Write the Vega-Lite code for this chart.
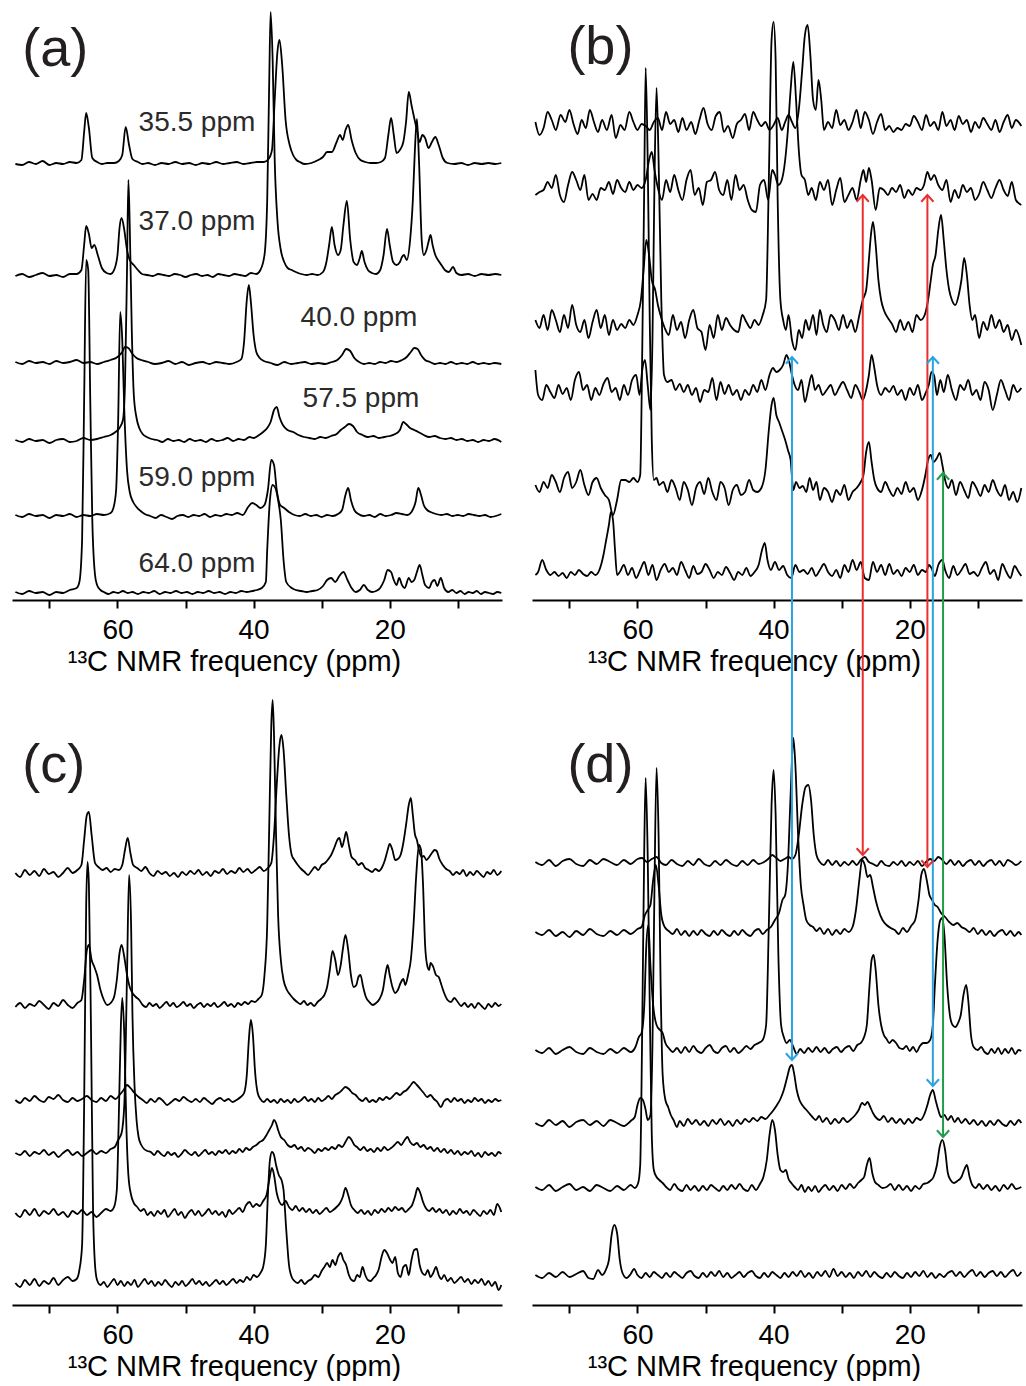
{
"$schema":"https://vega.github.io/schema/vega-lite/v6.json",
"padding":{"left":12,"top":5,"right":0,"bottom":0},
"background":"white",
"config":{"view":{"stroke":null},"font":"Liberation Sans"},
"datasets":{
"traces":[
{"panel":"a","id":"a1","x":[75,74,73,72,71,70,69,68,67,66,65.3,64.9,64.6,64.2,63.7,63.0,62.3,61.5,60.5,59.8,59.3,58.8,58.3,57.8,57.0,56.3,55.5,54.5,53.5,52.5,51.5,50.5,49.5,48.5,47.5,46.5,45.5,44.5,43.5,42.5,41.5,40.5,39.5,38.5,37.8,37.3,36.9,36.5,36.2,35.8,35.3,34.7,34.2,33.7,33.2,32.5,31.5,30.5,29.8,29.2,28.5,27.8,27.3,26.9,26.5,26.1,25.6,25.0,24.3,23.6,22.8,22.0,21.3,20.7,20.2,19.8,19.4,19.0,18.5,18.0,17.6,17.2,16.8,16.4,16.0,15.6,15.2,14.8,14.3,13.8,13.3,12.8,12.2,11.5,10.5,9.5,8.5,7.5,6.5,5.5,4.5,3.6],
"y":[436,435,438,436,439,435,437,436,438,437,440,468,487,472,442,438,436,437,437,439,445,473,455,441,438,436,437,435,437,436,438,436,437,435,437,436,438,436,437,438,436,437,438,438,441,450,500,548,560,535,480,455,445,440,438,436,437,440,443,448,448,458,465,460,470,475,460,447,440,438,437,437,438,442,465,482,465,447,450,458,478,508,495,482,470,458,465,462,452,458,463,455,442,437,436,437,435,437,436,437,436,437]},
{"panel":"a","id":"a2","x":[75,74,73,72,71,70,69,68,67,66,65.3,64.9,64.6,64.2,63.8,63.4,62.9,62.3,61.6,61.0,60.5,60.0,59.7,59.4,59.0,58.6,58.2,57.6,57.0,56.4,55.6,54.8,54.0,53.2,52.4,51.6,50.8,50.0,49.2,48.4,47.6,46.8,46.0,45.2,44.4,43.6,42.8,42.0,41.2,40.4,39.6,39.0,38.4,38.0,37.7,37.5,37.2,36.9,36.5,36.0,35.5,35.0,34.4,33.8,33.0,32.2,31.4,30.6,29.8,29.3,28.9,28.5,28.1,27.6,27.2,26.8,26.3,25.8,25.3,24.8,24.4,24.1,23.7,23.2,22.6,22.0,21.4,20.9,20.4,20.0,19.5,19.0,18.5,18.2,17.9,17.5,17.0,16.6,16.3,16.0,15.7,15.3,15.0,14.6,14.3,14.0,13.7,13.3,12.9,12.4,11.9,11.3,10.7,10.2,9.5,8.5,7.5,6.5,5.5,4.5,3.6],
"y":[324,326,323,325,327,324,325,323,326,326,330,355,374,366,352,355,345,332,327,326,330,345,372,382,370,350,340,335,330,326,325,324,326,325,324,326,325,323,325,326,324,325,323,326,325,324,326,325,324,327,326,330,345,400,520,588,540,440,380,350,338,332,330,328,326,325,326,325,328,338,355,373,355,345,350,375,399,360,338,335,342,349,338,330,327,326,330,345,371,355,338,335,338,343,345,340,360,400,450,481,440,360,345,350,358,365,355,345,340,335,330,328,333,327,325,326,324,326,325,326,325]},
{"panel":"a","id":"a3","x":[75,74,73,72,71,70,69,68,67,66,65,64,63,62,61,60,59.3,58.9,58.4,57.8,57.2,56.5,55.5,54.5,53.5,52.5,51.5,50.5,49.5,48.5,47.5,46.5,45.5,44.5,43.5,42.5,41.8,41.4,41.0,40.7,40.4,40.0,39.6,39.1,38.5,37.5,36.5,35.5,34.5,33.5,32.5,31.5,30.5,29.5,28.5,27.7,27.0,26.4,25.8,25.2,24.5,23.8,23.0,22.2,21.4,20.6,19.8,19.0,18.2,17.5,16.9,16.4,15.9,15.4,14.8,14.1,13.4,12.6,11.8,11.0,10.2,9.4,8.6,7.8,7.0,6.2,5.4,4.6,3.6],
"y":[238,236,239,237,238,236,239,237,238,240,237,238,236,238,240,243,248,253,252,246,242,240,238,236,237,239,236,238,235,237,238,236,238,237,236,238,241,258,300,315,298,265,248,242,239,237,235,238,236,237,238,236,237,236,238,240,245,251,249,242,238,236,237,236,238,237,239,238,240,243,248,252,251,245,240,238,236,237,236,238,236,237,236,238,236,237,236,237,236]},
{"panel":"a","id":"a4","x":[75,74,73,72,71,70,69,68,67,66,65,64,63,62,61,60.3,59.7,59.2,58.9,58.6,58.4,58.2,57.9,57.6,57.2,56.8,56.3,55.7,55.0,54.2,53.4,52.6,51.8,51.0,50.2,49.4,48.6,47.8,47.0,46.2,45.4,44.6,43.8,43.0,42.2,41.4,40.6,40.0,39.2,38.6,38.0,37.5,37.0,36.6,36.2,35.7,35.0,34.2,33.4,32.6,31.8,31.0,30.2,29.4,28.6,27.8,27.2,26.6,26.0,25.4,24.8,24.0,23.2,22.4,21.6,20.8,20.0,19.2,18.5,18.0,17.6,17.0,16.4,15.8,15.0,14.2,13.4,12.6,11.8,11.0,10.2,9.4,8.6,7.8,7.0,6.2,5.4,4.6,3.6],
"y":[160,158,161,159,160,157,160,161,158,159,162,160,161,163,165,168,172,180,215,330,420,375,270,205,182,172,166,163,161,160,158,161,159,160,158,161,159,160,158,161,159,160,162,159,161,160,163,162,165,168,172,178,190,193,183,175,170,168,165,163,162,161,163,162,164,166,170,173,176,174,168,165,163,164,162,163,164,166,170,178,176,172,170,168,165,163,164,162,161,162,160,161,159,160,158,160,159,161,158]},
{"panel":"a","id":"a5","x":[75,74,73,72,71,70,69,68,67,66,65,64,63,62,61,60.6,60.2,59.9,59.6,59.3,59.0,58.6,58.2,57.7,57.2,56.6,56.0,55.2,54.4,53.6,52.8,52.0,51.2,50.4,49.6,48.8,48.0,47.2,46.4,45.6,44.8,44.0,43.2,42.4,41.6,40.8,40.2,39.6,39.0,38.4,37.9,37.4,37.0,36.6,36.1,35.5,34.8,34.0,33.2,32.4,31.6,30.8,30.0,29.2,28.4,27.6,27.0,26.5,26.1,25.7,25.2,24.6,23.8,23.0,22.2,21.4,20.6,19.8,19.0,18.2,17.4,16.8,16.2,15.8,15.4,15.0,14.5,14.0,13.2,12.4,11.6,10.8,10.0,9.2,8.4,7.6,6.8,6.0,5.2,4.4,3.6],
"y":[85,83,86,84,85,82,85,84,86,83,85,84,86,85,87,92,110,180,288,260,190,130,108,98,93,89,86,84,82,85,83,81,84,85,83,85,84,86,83,85,84,86,85,87,85,93,97,95,92,95,110,140,135,110,95,92,88,85,84,86,84,85,83,85,84,86,90,105,112,100,90,86,84,85,83,86,84,85,87,86,85,88,98,112,105,95,90,88,86,85,86,84,85,84,86,85,84,85,83,84,86]},
{"panel":"a","id":"a6","x":[75,74,73,72,71,70,69,68,67,66,65.6,65.2,64.9,64.6,64.3,64.0,63.7,63.3,63.0,62.5,62.0,61.3,60.6,59.9,59.2,58.5,57.8,57.0,56.2,55.4,54.6,53.8,53.0,52.2,51.4,50.6,49.8,49.0,48.2,47.4,46.6,45.8,45.0,44.2,43.4,42.6,41.8,41.0,40.2,39.5,38.8,38.2,38.0,37.6,37.2,36.8,36.4,36.0,35.6,35.2,34.4,33.8,33.0,32.2,31.4,30.6,29.8,29.2,28.6,28.0,27.4,26.8,26.2,25.6,25.0,24.4,23.8,23.2,22.6,22.0,21.4,20.8,20.3,19.8,19.4,19.0,18.6,18.2,17.8,17.2,16.8,16.4,16.0,15.6,15.2,14.8,14.2,13.8,13.4,13.0,12.5,12.0,11.4,10.8,10.2,9.6,9.0,8.4,7.8,7.2,6.6,6.0,5.4,4.8,4.2,3.6],
"y":[8,6,9,7,8,5,8,7,10,12,18,60,200,340,330,200,80,25,15,10,8,6,8,7,9,7,8,6,8,7,9,6,8,7,9,7,8,6,8,7,9,7,8,6,8,7,9,8,9,10,12,18,50,100,115,112,100,80,40,18,12,10,9,8,9,10,14,20,22,18,24,28,20,12,8,10,15,10,8,9,12,20,30,28,20,15,22,15,12,22,18,20,28,35,25,15,12,18,20,14,22,12,8,10,7,9,6,8,7,9,6,8,7,6,8,7]},
{"panel":"b","id":"b1","x":[75,74.4,73.8,73.2,72.6,72.0,71.3,70.6,70.0,69.4,68.8,68.2,67.6,67.0,66.4,65.8,65.2,64.5,63.8,63.2,62.5,61.9,61.2,60.6,60.0,59.4,58.8,58.2,57.6,57.0,56.4,55.8,55.2,54.6,54.0,53.4,52.8,52.1,51.5,50.9,50.3,49.7,49.1,48.5,47.9,47.3,46.7,46.0,45.4,44.8,44.2,43.6,43.0,42.4,41.8,41.2,40.6,40.0,39.4,38.8,38.3,37.8,37.3,36.8,36.3,35.8,35.4,35.0,34.6,34.2,33.8,33.4,33.0,32.6,32.0,31.4,30.8,30.2,29.6,29.0,28.4,27.8,27.2,26.6,26.0,25.4,24.8,24.2,23.6,23.0,22.4,21.8,21.2,20.6,20.0,19.4,18.8,18.2,17.6,17.0,16.4,15.8,15.2,14.6,14.0,13.4,12.8,12.2,11.6,11.0,10.4,9.8,9.2,8.6,8.0,7.4,6.8,6.2,5.6,5.0,4.4,3.6],
"y":[478,465,472,488,480,470,485,478,490,476,466,480,472,490,478,468,480,470,485,462,475,470,488,478,470,476,474,470,478,482,470,488,476,480,468,482,470,478,466,480,492,476,470,484,488,468,474,462,476,480,486,470,488,480,474,478,470,475,482,470,478,485,478,472,490,530,565,575,545,500,490,520,500,470,478,472,490,475,480,470,478,490,472,488,480,466,478,486,470,474,468,472,470,476,474,484,478,470,485,474,478,470,488,474,480,470,484,476,480,468,478,472,482,476,470,480,468,478,485,472,480,474]},
{"panel":"b","id":"b2","x":[75,74.4,73.8,73.2,72.6,72.0,71.4,70.8,70.2,69.6,69.0,68.4,67.8,67.2,66.6,66.0,65.4,64.8,64.2,63.6,63.0,62.4,61.8,61.2,60.6,60.0,59.4,58.8,58.3,57.9,57.5,57.0,56.4,55.8,55.2,54.6,54.0,53.4,52.8,52.2,51.6,51.0,50.4,49.8,49.2,48.6,48.0,47.4,46.8,46.2,45.6,45.0,44.4,43.8,43.2,42.6,42.0,41.4,40.8,40.2,39.8,39.3,38.8,38.3,37.9,37.5,37.1,36.7,36.3,35.9,35.4,34.9,34.4,33.8,33.2,32.6,32.0,31.4,30.8,30.2,29.6,29.0,28.4,27.8,27.2,26.8,26.4,26.0,25.6,25.0,24.4,23.8,23.2,22.6,22.0,21.4,20.8,20.2,19.6,19.0,18.4,17.9,17.4,16.9,16.4,15.8,15.2,14.6,14.0,13.4,12.8,12.2,11.6,11.0,10.4,9.8,9.2,8.6,8.0,7.4,6.8,6.2,5.6,5.0,4.4,3.6],
"y":[405,408,410,418,412,425,405,398,415,428,420,410,425,400,406,400,412,410,418,406,420,412,408,418,410,415,412,420,440,448,430,412,400,420,408,425,410,400,420,430,405,412,395,418,420,428,410,405,420,400,425,410,415,400,390,388,415,420,400,430,425,415,420,440,470,510,538,500,450,425,420,405,412,400,418,410,420,395,410,422,398,405,412,400,420,430,418,432,420,390,412,410,405,412,408,415,402,410,405,412,410,415,428,420,425,415,410,420,398,410,402,415,408,412,400,406,418,410,402,412,420,410,404,418,400,395]},
{"panel":"b","id":"b3","x":[75,74.4,73.8,73.2,72.6,72.0,71.4,70.8,70.2,69.6,69.0,68.4,67.8,67.2,66.6,66.0,65.4,64.8,64.2,63.6,63.0,62.4,61.8,61.2,60.6,60.0,59.5,59.1,58.7,58.3,57.9,57.4,57.0,56.5,56.0,55.4,54.8,54.2,53.6,53.0,52.4,51.8,51.2,50.6,50.0,49.4,48.8,48.2,47.6,47.0,46.4,45.8,45.2,44.6,44.0,43.4,42.8,42.2,41.6,41.1,40.7,40.3,40.0,39.7,39.4,39.0,38.6,38.2,37.8,37.3,36.8,36.3,35.8,35.3,34.8,34.2,33.7,33.2,32.7,32.2,31.6,31.0,30.4,29.8,29.2,28.6,28.0,27.4,26.9,26.4,26.0,25.7,25.4,25.0,24.6,24.2,23.8,23.2,22.6,22.0,21.4,20.8,20.2,19.6,19.0,18.4,17.8,17.3,16.9,16.6,16.2,15.8,15.4,15.0,14.6,14.2,13.8,13.3,12.8,12.4,12.0,11.6,11.2,10.8,10.4,9.8,9.2,8.6,8.0,7.4,6.8,6.2,5.6,5.0,4.4,3.6],
"y":[280,272,285,270,290,280,268,285,272,295,275,268,280,262,278,290,272,285,265,280,270,276,272,280,275,285,300,330,360,345,320,310,295,282,272,265,285,270,278,262,280,290,272,268,250,275,262,285,270,282,275,270,268,285,278,272,280,275,285,300,420,560,578,540,400,300,280,270,285,260,250,270,262,280,270,285,265,290,275,268,285,280,270,285,272,280,268,285,300,310,340,365,378,355,320,300,290,282,276,268,280,270,278,268,285,280,285,300,320,335,345,370,385,360,330,310,300,295,305,320,342,325,295,280,285,262,278,270,285,272,280,268,275,260,270,255]},
{"panel":"b","id":"b4","x":[75,74.6,74.0,73.4,72.8,72.2,71.6,71.0,70.4,69.8,69.2,68.6,68.0,67.4,66.8,66.2,65.6,65.0,64.4,63.8,63.2,62.6,62.0,61.4,60.8,60.2,59.7,59.3,58.9,58.5,58.1,57.8,57.5,57.2,56.9,56.5,56.1,55.6,55.0,54.4,53.8,53.2,52.6,52.0,51.4,50.8,50.2,49.6,49.0,48.4,47.8,47.2,46.6,46.0,45.4,44.8,44.2,43.6,43.0,42.4,41.8,41.2,40.6,40.1,39.6,39.1,38.6,38.1,37.7,37.3,36.9,36.4,35.9,35.4,34.9,34.4,33.9,33.4,32.8,32.2,31.6,31.0,30.4,29.8,29.2,28.6,28.0,27.4,26.9,26.4,26.0,25.6,25.2,24.8,24.2,23.6,23.0,22.4,21.8,21.2,20.6,20.0,19.4,18.8,18.2,17.6,17.2,16.8,16.4,16.0,15.5,15.0,14.4,13.8,13.2,12.6,12.0,11.4,10.8,10.2,9.6,9.0,8.4,7.8,7.2,6.6,6.0,5.4,4.8,4.2,3.6],
"y":[230,205,200,215,208,202,215,206,212,200,220,228,210,215,200,212,205,216,222,208,212,200,215,205,220,225,205,230,240,215,190,260,420,512,440,300,225,218,220,210,216,208,215,205,212,198,210,208,222,200,218,206,215,205,210,200,210,205,215,208,220,210,225,232,228,230,235,245,238,225,215,210,220,198,212,225,210,215,205,210,215,205,212,218,210,202,215,208,200,210,225,245,232,215,205,212,208,214,205,210,200,212,205,215,200,208,215,228,224,205,220,208,225,210,200,215,210,220,205,210,200,218,210,190,205,220,210,200,215,208,212]},
{"panel":"b","id":"b5","x":[75,74.4,73.8,73.2,72.6,72.0,71.4,70.8,70.2,69.6,69.0,68.4,67.8,67.2,66.6,66.0,65.4,64.8,64.2,63.6,63.0,62.4,61.8,61.2,60.6,60.0,59.6,59.3,59.0,58.8,58.5,58.2,57.9,57.6,57.2,56.8,56.2,55.6,55.0,54.4,53.8,53.2,52.6,52.0,51.4,50.8,50.2,49.6,49.0,48.4,47.8,47.2,46.6,46.0,45.4,44.8,44.2,43.6,43.0,42.4,41.8,41.2,40.7,40.3,40.0,39.6,39.2,38.8,38.3,37.9,37.5,37.1,36.7,36.2,35.7,35.2,34.7,34.2,33.7,33.2,32.6,32.0,31.4,30.8,30.2,29.6,29.0,28.4,27.8,27.2,26.8,26.4,26.0,25.6,25.2,24.8,24.2,23.6,23.0,22.4,21.8,21.2,20.6,20.0,19.4,18.8,18.2,17.7,17.3,16.9,16.5,16.0,15.6,15.2,14.8,14.3,13.8,13.2,12.6,12.0,11.4,10.8,10.2,9.6,9.0,8.4,7.8,7.2,6.6,6.0,5.4,4.8,4.2,3.6],
"y":[115,108,118,112,125,118,108,122,128,112,118,130,115,105,118,122,112,105,100,85,100,120,120,118,122,118,125,250,420,532,440,280,160,120,122,115,118,108,120,112,100,118,110,95,112,118,106,122,108,100,118,112,95,110,115,105,108,120,110,108,112,130,170,195,202,185,178,170,160,150,140,110,118,112,114,108,122,110,118,100,112,108,98,110,105,115,100,108,112,118,125,148,158,138,120,112,108,118,110,104,112,106,118,108,112,100,110,125,140,145,138,142,147,135,120,112,120,105,118,110,102,118,112,104,115,108,120,110,104,115,100,108,98,112]},
{"panel":"b","id":"b6","x":[75,74.6,74.0,73.4,72.8,72.2,71.6,71.0,70.4,69.8,69.2,68.6,68.0,67.4,66.8,66.2,65.6,65.0,64.6,64.2,63.9,63.6,63.3,63.0,62.6,62.0,61.4,60.8,60.2,59.6,59.0,58.4,57.8,57.2,56.6,56.0,55.4,54.8,54.2,53.6,53.0,52.4,51.8,51.2,50.6,50.0,49.4,48.8,48.2,47.6,47.0,46.4,45.8,45.2,44.6,44.0,43.4,42.8,42.2,41.7,41.3,40.9,40.4,39.8,39.2,38.6,38.0,37.4,36.8,36.2,35.6,35.0,34.4,33.8,33.2,32.6,32.0,31.4,30.8,30.2,29.6,29.0,28.4,27.8,27.2,26.6,26.0,25.4,24.8,24.2,23.6,23.0,22.4,21.8,21.2,20.6,20.0,19.4,18.8,18.2,17.6,17.2,16.8,16.3,15.8,15.2,14.8,14.2,13.6,13.0,12.4,11.8,11.2,10.6,10.0,9.4,8.8,8.2,7.6,7.0,6.4,5.8,5.2,4.6,4.0,3.6],
"y":[25,28,40,30,25,28,24,27,22,28,25,30,26,24,28,25,30,45,60,75,88,80,50,25,28,35,25,32,22,30,38,25,35,20,30,36,28,32,25,38,30,22,34,26,28,36,30,22,28,25,33,27,20,28,25,32,24,28,35,50,57,40,30,38,30,34,25,22,35,28,30,26,32,24,30,36,28,24,30,22,35,28,40,30,38,22,20,38,28,35,25,36,26,30,24,32,28,35,25,30,28,35,32,24,35,40,30,22,34,25,30,36,26,28,24,32,38,26,30,20,36,28,22,34,28,24]},
{"panel":"c","id":"c1","x":[75,74.3,73.6,72.9,72.2,71.5,70.8,70.1,69.4,68.7,68.0,67.3,66.6,65.9,65.3,64.9,64.5,64.2,63.8,63.3,62.8,62.2,61.6,61.0,60.4,59.8,59.3,58.9,58.5,58.1,57.7,57.1,56.5,55.9,55.3,54.7,54.1,53.5,52.9,52.3,51.7,51.1,50.5,49.9,49.3,48.7,48.1,47.5,46.9,46.3,45.7,45.1,44.5,43.9,43.3,42.7,42.1,41.5,40.9,40.3,39.7,39.1,38.5,37.9,37.4,37.0,36.6,36.2,35.9,35.6,35.2,34.8,34.4,34.0,33.5,33.0,32.5,32.0,31.5,31.0,30.5,30.0,29.5,29.0,28.6,28.1,27.7,27.4,27.0,26.7,26.4,26.0,25.6,25.1,24.6,24.1,23.6,23.1,22.6,22.1,21.6,21.1,20.7,20.3,20.0,19.6,19.2,18.8,18.4,18.0,17.6,17.2,16.9,16.6,16.3,16.0,15.7,15.3,15.0,14.6,14.2,13.8,13.4,13.1,12.7,12.2,11.7,11.2,10.7,10.2,9.7,9.2,8.7,8.2,7.7,7.2,6.7,6.2,5.7,5.2,4.7,4.2,3.6],
"y":[432,428,435,430,434,429,436,431,433,428,432,437,432,435,440,465,490,493,470,442,438,435,437,433,436,435,440,455,467,452,440,437,434,438,432,429,434,431,433,429,432,428,433,430,434,431,435,430,433,429,434,432,436,431,434,432,437,433,436,432,435,438,434,437,442,470,520,560,570,555,510,470,450,445,440,436,433,430,434,438,435,440,442,446,450,458,465,467,458,465,473,460,448,445,440,442,437,435,433,436,434,438,445,455,461,455,445,446,450,462,480,500,507,490,471,465,455,448,449,445,448,452,455,454,446,440,436,434,430,433,431,435,429,433,430,434,431,428,433,431,435,430,434]},
{"panel":"c","id":"c2","x":[75,74.3,73.6,72.9,72.2,71.5,70.8,70.1,69.4,68.7,68.0,67.3,66.6,65.9,65.3,64.9,64.5,64.2,63.8,63.4,63.0,62.5,62.0,61.5,61.0,60.5,60.1,59.7,59.4,59.0,58.6,58.2,57.8,57.3,56.8,56.3,55.8,55.3,54.8,54.3,53.8,53.3,52.8,52.3,51.8,51.3,50.8,50.3,49.8,49.3,48.8,48.3,47.8,47.3,46.8,46.3,45.8,45.3,44.8,44.3,43.8,43.3,42.8,42.3,41.8,41.3,40.8,40.3,39.8,39.3,38.8,38.4,38.0,37.7,37.4,37.2,37.0,36.7,36.4,36.0,35.6,35.1,34.6,34.1,33.6,33.1,32.6,32.1,31.6,31.1,30.6,30.1,29.6,29.2,28.8,28.4,28.0,27.6,27.2,26.9,26.5,26.1,25.7,25.3,24.9,24.6,24.3,23.9,23.5,23.0,22.5,22.0,21.5,21.0,20.6,20.3,20.0,19.6,19.2,18.8,18.4,18.0,17.7,17.3,16.9,16.5,16.1,15.7,15.4,15.1,14.8,14.5,14.2,14.0,13.6,13.2,12.8,12.4,12.0,11.5,11.0,10.5,10.0,9.5,9.0,8.5,8.0,7.5,7.0,6.5,6.0,5.5,5.0,4.5,4.0,3.6],
"y":[298,302,297,301,299,304,300,296,302,299,305,300,297,302,305,325,355,360,345,338,330,315,305,300,302,308,325,352,360,348,330,318,312,308,305,300,298,302,299,301,297,300,303,299,302,298,300,303,299,301,297,300,302,298,301,299,302,298,300,303,299,301,298,302,300,303,301,304,303,306,310,330,380,480,580,605,570,470,390,345,325,315,310,306,303,301,304,300,302,299,303,306,310,318,335,354,345,330,340,355,370,355,330,318,320,328,330,318,308,303,300,302,306,315,332,340,330,318,312,315,322,326,320,330,345,380,430,460,455,420,360,340,335,342,338,330,328,320,312,305,303,307,303,299,302,298,301,297,302,299,296,301,298,302,299,301]},
{"panel":"c","id":"c3","x":[75,74.3,73.6,72.9,72.2,71.5,70.8,70.1,69.4,68.7,68.0,67.3,66.6,65.9,65.2,64.5,63.8,63.1,62.4,61.7,61.0,60.3,59.7,59.1,58.6,58.1,57.5,56.9,56.3,55.7,55.1,54.5,53.9,53.3,52.7,52.1,51.5,50.9,50.3,49.7,49.1,48.5,47.9,47.3,46.7,46.1,45.5,44.9,44.3,43.7,43.1,42.5,41.9,41.4,41.0,40.7,40.4,40.1,39.8,39.4,39.0,38.5,38.0,37.5,37.0,36.5,36.0,35.5,35.0,34.5,34.0,33.5,33.0,32.5,32.0,31.5,31.0,30.5,30.0,29.5,29.0,28.5,28.0,27.5,27.0,26.5,26.0,25.5,25.0,24.5,24.0,23.5,23.0,22.5,22.0,21.5,21.0,20.5,20.0,19.5,19.0,18.5,18.0,17.5,17.0,16.5,16.0,15.5,15.0,14.5,14.0,13.5,13.0,12.5,12.0,11.5,11.0,10.5,10.0,9.5,9.0,8.5,8.0,7.5,7.0,6.5,6.0,5.5,5.0,4.5,4.0,3.6],
"y":[205,202,207,204,209,205,203,208,206,210,205,203,207,204,206,209,205,203,207,204,209,206,210,215,220,217,212,208,205,202,206,203,207,204,200,203,206,204,208,205,203,206,203,207,204,201,205,207,204,206,203,205,208,212,230,265,285,270,235,212,206,203,206,203,205,202,206,203,205,202,206,203,205,208,204,206,203,207,204,206,209,206,210,212,215,218,216,212,210,206,204,207,203,205,203,207,205,208,206,209,212,210,213,215,219,223,220,216,212,208,210,206,203,198,204,206,203,207,204,206,202,205,203,207,204,206,202,205,203,206,204,205]},
{"panel":"c","id":"c4","x":[75,74.3,73.6,72.9,72.2,71.5,70.8,70.1,69.4,68.7,68.0,67.3,66.6,65.9,65.2,64.5,63.8,63.1,62.4,61.7,61.0,60.4,59.9,59.4,59.0,58.6,58.3,58.0,57.8,57.5,57.2,56.9,56.5,56.1,55.6,55.1,54.6,54.1,53.6,53.1,52.6,52.1,51.6,51.1,50.6,50.1,49.6,49.1,48.6,48.1,47.6,47.1,46.6,46.1,45.6,45.1,44.6,44.1,43.6,43.1,42.6,42.1,41.6,41.1,40.6,40.1,39.6,39.1,38.6,38.1,37.7,37.3,37.0,36.7,36.4,36.0,35.5,35.0,34.5,34.0,33.5,33.0,32.5,32.0,31.5,31.0,30.5,30.0,29.5,29.0,28.5,28.0,27.5,27.0,26.5,26.0,25.6,25.2,24.8,24.3,23.8,23.3,22.8,22.3,21.8,21.3,20.8,20.3,19.8,19.3,18.8,18.3,17.8,17.4,17.0,16.5,16.0,15.5,15.0,14.5,14.0,13.5,13.0,12.5,12.0,11.5,11.0,10.5,10.0,9.5,9.0,8.5,8.0,7.5,7.0,6.5,6.0,5.5,5.0,4.5,4.0,3.6],
"y":[152,150,154,149,153,151,155,150,153,148,152,155,150,153,149,152,155,151,154,152,156,158,165,172,200,330,430,380,290,220,185,168,160,156,154,153,150,154,151,149,153,150,152,148,151,155,152,150,153,149,152,155,151,153,150,154,152,155,151,154,152,156,153,157,155,158,160,163,165,170,175,180,185,182,175,168,165,160,158,160,156,158,154,157,155,152,156,154,157,155,158,156,160,158,163,168,165,160,158,155,158,154,156,153,157,154,158,155,157,160,163,160,165,168,163,160,162,158,160,156,158,154,157,153,156,152,155,151,154,150,153,151,154,149,152,148,153,150,152,149,153,151]},
{"panel":"c","id":"c5","x":[75,74.3,73.6,72.9,72.2,71.5,70.8,70.1,69.4,68.7,68.0,67.3,66.6,65.9,65.2,64.5,63.8,63.1,62.4,61.7,61.0,60.5,60.1,59.8,59.5,59.3,59.0,58.7,58.4,58.0,57.6,57.1,56.6,56.1,55.6,55.1,54.6,54.1,53.6,53.1,52.6,52.1,51.6,51.1,50.6,50.1,49.6,49.1,48.6,48.1,47.6,47.1,46.6,46.1,45.6,45.1,44.6,44.1,43.6,43.1,42.6,42.1,41.6,41.1,40.6,40.1,39.6,39.1,38.6,38.1,37.7,37.3,37.0,36.6,36.2,35.8,35.3,34.8,34.3,33.8,33.3,32.8,32.3,31.8,31.3,30.8,30.3,29.8,29.3,28.8,28.3,27.8,27.3,26.9,26.5,26.1,25.7,25.2,24.7,24.2,23.7,23.2,22.7,22.2,21.7,21.2,20.7,20.2,19.7,19.2,18.7,18.2,17.7,17.2,16.7,16.3,15.9,15.5,15.1,14.7,14.2,13.7,13.2,12.7,12.2,11.7,11.2,10.7,10.2,9.7,9.2,8.7,8.2,7.7,7.2,6.7,6.2,5.7,5.2,4.7,4.2,3.6],
"y":[92,88,95,90,96,89,94,91,96,90,93,88,94,91,95,90,93,88,92,96,94,98,115,190,280,307,270,180,130,110,102,98,94,96,90,93,89,94,91,95,88,92,96,90,93,87,92,95,90,94,89,92,96,91,94,90,93,88,95,91,94,97,93,100,103,98,101,99,104,110,125,137,130,112,103,100,104,98,95,99,94,97,93,96,92,95,91,94,97,93,95,98,102,108,117,110,100,95,92,95,91,94,90,95,92,96,93,97,94,98,95,97,93,96,100,108,117,112,103,97,94,97,93,96,92,95,90,94,91,96,92,94,90,95,92,89,94,91,95,90,101,93]},
{"panel":"c","id":"c6","x":[75,74.3,73.6,72.9,72.2,71.5,70.8,70.1,69.4,68.7,68.0,67.3,66.6,66.0,65.6,65.2,64.9,64.6,64.4,64.2,63.9,63.6,63.3,63.0,62.5,62.0,61.5,61.0,60.5,60.0,59.5,59.0,58.5,58.0,57.5,57.0,56.5,56.0,55.5,55.0,54.5,54.0,53.5,53.0,52.5,52.0,51.5,51.0,50.5,50.0,49.5,49.0,48.5,48.0,47.5,47.0,46.5,46.0,45.5,45.0,44.5,44.0,43.5,43.0,42.5,42.0,41.5,41.0,40.5,40.0,39.5,39.0,38.6,38.2,37.9,37.6,37.3,37.0,36.7,36.3,35.9,35.6,35.2,34.8,34.4,34.0,33.5,33.0,32.5,32.0,31.5,31.0,30.5,30.0,29.6,29.2,28.8,28.4,28.0,27.6,27.2,26.8,26.4,26.0,25.6,25.2,24.8,24.4,24.0,23.6,23.2,22.8,22.4,22.0,21.6,21.2,20.8,20.4,20.0,19.6,19.2,18.8,18.4,18.0,17.6,17.2,16.8,16.4,16.0,15.6,15.2,14.8,14.4,14.0,13.6,13.2,12.8,12.4,12.0,11.5,11.0,10.5,10.0,9.5,9.0,8.5,8.0,7.5,7.0,6.5,6.0,5.5,5.0,4.5,4.0,3.6],
"y":[22,18,25,20,26,19,24,21,27,20,25,28,24,26,35,60,200,400,443,420,280,100,40,25,20,23,18,22,26,20,24,19,23,20,25,18,22,26,21,24,19,23,20,25,21,18,23,20,24,19,22,26,21,24,20,23,19,22,25,21,24,20,23,26,22,25,23,28,25,30,28,32,38,60,110,145,153,150,140,130,125,115,75,40,28,24,22,25,21,24,26,30,28,34,38,42,38,45,40,48,52,45,40,30,25,24,30,28,38,30,25,24,27,30,36,48,55,52,46,42,48,32,28,38,40,30,45,55,56,40,32,30,35,28,32,38,30,26,30,24,27,22,25,28,23,26,21,25,22,26,20,24,19,23,15,20]},
{"panel":"d","id":"d1","x":[75,74,73,72,71,70,69,68,67,66,65,64,63,62,61,60,59.3,58.6,57.9,57.2,56.5,55.8,55.0,54.2,53.4,52.6,51.8,51.0,50.2,49.4,48.6,47.8,47.0,46.2,45.4,44.6,43.8,43.0,42.2,41.4,40.8,40.2,39.6,39.0,38.4,37.8,37.3,36.8,36.3,35.8,35.3,34.9,34.5,34.1,33.7,33.2,32.6,32.0,31.4,30.8,30.2,29.6,29.0,28.4,27.8,27.2,26.6,26.0,25.4,24.8,24.2,23.6,23.0,22.4,21.8,21.2,20.6,20.0,19.4,18.8,18.2,17.6,17.0,16.4,15.8,15.2,14.6,14.0,13.4,12.8,12.2,11.6,11.0,10.4,9.8,9.2,8.6,8.0,7.4,6.8,6.2,5.6,5.0,4.4,3.6],
"y":[443,440,445,439,444,446,441,439,445,441,446,443,440,445,441,446,447,443,446,448,442,440,445,441,439,444,440,446,441,439,444,440,445,441,439,444,440,445,441,443,446,450,447,444,446,448,446,450,470,500,518,520,505,470,450,443,440,445,440,444,439,443,440,444,440,445,448,443,441,439,444,440,439,443,440,444,439,443,440,444,439,443,446,444,448,445,441,445,440,444,439,443,445,440,444,439,443,445,440,444,439,445,443,440,444]},
{"panel":"d","id":"d2","x":[75,74,73,72,71,70,69,68,67,66,65,64,63,62,61,60,59.4,58.9,58.5,58.1,57.7,57.3,56.9,56.5,56.0,55.4,54.8,54.2,53.6,53.0,52.4,51.8,51.2,50.6,50.0,49.4,48.8,48.2,47.6,47.0,46.4,45.8,45.2,44.6,44.0,43.4,42.8,42.2,41.6,41.0,40.4,39.8,39.2,38.7,38.3,37.9,37.5,37.1,36.8,36.4,36.0,35.6,35.2,34.7,34.2,33.7,33.2,32.6,32.0,31.4,30.8,30.2,29.6,29.0,28.4,27.9,27.4,27.0,26.6,26.2,25.8,25.4,25.0,24.6,24.0,23.4,22.8,22.2,21.6,21.0,20.4,19.8,19.2,18.7,18.3,17.9,17.5,17.1,16.7,16.3,15.9,15.4,14.8,14.2,13.6,13.0,12.4,11.8,11.2,10.6,10.0,9.4,8.8,8.2,7.6,7.0,6.4,5.8,5.2,4.6,4.0,3.6],
"y":[373,370,375,369,373,368,374,370,376,371,369,374,370,375,371,376,378,390,395,400,425,440,420,390,378,374,371,376,370,374,369,374,370,375,371,369,374,370,375,371,369,374,370,375,371,369,374,376,371,375,378,385,392,405,410,440,510,567,540,470,420,400,385,380,378,374,377,371,376,370,375,371,376,373,378,395,425,445,440,428,430,418,405,395,385,380,377,375,371,377,373,379,385,405,430,436,425,410,405,400,398,392,388,383,380,382,378,376,373,377,371,375,370,374,369,373,375,370,374,369,373,370]},
{"panel":"d","id":"d3","x":[75,74,73,72,71,70,69,68,67,66,65,64,63,62,61,60.3,59.8,59.4,59.0,58.7,58.4,58.1,57.7,57.2,56.7,56.3,55.9,55.4,54.8,54.2,53.6,53.0,52.4,51.8,51.2,50.6,50.0,49.4,48.8,48.2,47.6,47.0,46.4,45.8,45.2,44.6,44.0,43.4,42.8,42.2,41.6,41.1,40.7,40.3,40.0,39.7,39.3,38.9,38.5,38.1,37.6,37.1,36.6,36.1,35.5,34.9,34.3,33.7,33.1,32.5,31.9,31.3,30.7,30.1,29.5,28.9,28.3,27.7,27.2,26.7,26.3,25.9,25.6,25.3,25.0,24.6,24.2,23.8,23.4,23.0,22.5,22.0,21.5,21.0,20.5,20.0,19.5,19.0,18.5,18.0,17.5,17.0,16.6,16.3,15.9,15.5,15.2,14.9,14.5,14.1,13.7,13.3,12.9,12.5,12.1,11.7,11.4,11.0,10.6,10.0,9.5,9.0,8.5,8.0,7.5,7.0,6.5,6.0,5.5,5.0,4.5,4.0,3.6],
"y":[255,252,257,251,255,258,253,251,257,253,251,256,252,257,253,258,268,272,300,360,380,340,300,280,275,272,262,257,253,257,252,258,253,259,254,252,257,260,254,252,257,259,253,257,252,255,259,256,260,262,265,280,380,500,535,490,350,280,268,262,265,258,251,256,252,257,253,258,253,257,252,256,258,253,257,259,254,260,262,268,280,320,345,350,335,300,280,270,266,262,265,262,257,256,259,254,258,253,259,262,262,265,280,320,365,385,387,370,320,290,280,278,282,290,310,320,305,270,258,255,258,253,251,256,252,257,251,256,252,257,251,255,254]},
{"panel":"d","id":"d4","x":[75,74,73,72,71,70,69,68,67,66,65,64,63,62,61,60.4,60.0,59.6,59.2,58.8,58.5,58.1,57.8,57.5,57.2,56.9,56.6,56.3,55.9,55.5,55.1,54.7,54.2,53.8,53.2,52.6,52.0,51.4,50.8,50.2,49.6,49.0,48.4,47.8,47.2,46.6,46.0,45.4,44.8,44.2,43.6,43.0,42.4,41.8,41.2,40.6,40.0,39.5,39.0,38.5,38.0,37.6,37.3,37.0,36.6,36.2,35.8,35.3,34.8,34.3,33.8,33.3,32.8,32.2,31.6,31.0,30.4,29.8,29.2,28.6,28.0,27.5,27.0,26.6,26.2,25.8,25.4,24.9,24.4,23.8,23.2,22.6,22.0,21.4,20.8,20.2,19.6,19.0,18.4,17.9,17.4,17.0,16.6,16.2,15.8,15.4,14.9,14.4,13.9,13.4,12.9,12.4,11.8,11.2,10.6,10.0,9.4,8.8,8.2,7.6,7.0,6.4,5.8,5.2,4.6,4.0,3.6],
"y":[182,179,185,180,184,178,183,185,180,184,179,185,182,179,184,188,200,207,205,195,185,190,260,420,537,470,320,230,205,198,190,185,178,184,179,186,181,185,180,184,179,185,181,186,180,184,179,185,181,186,183,187,184,188,186,190,195,200,206,215,228,238,240,232,215,205,200,196,192,188,185,189,183,187,181,186,182,187,183,186,190,195,202,200,203,198,192,187,185,189,183,187,182,186,181,186,182,187,185,190,200,210,215,205,195,188,190,185,189,183,187,182,186,181,185,180,184,179,184,180,185,181,179,184,180,185,182]},
{"panel":"d","id":"d5","x":[75,74,73,72,71,70,69,68,67,66,65,64,63,62,61,60.4,59.9,59.6,59.3,59.0,58.8,58.5,58.2,57.9,57.6,57.2,56.8,56.3,55.8,55.2,54.6,54.0,53.4,52.8,52.2,51.6,51.0,50.4,49.8,49.2,48.6,48.0,47.4,46.8,46.2,45.6,45.0,44.4,43.8,43.2,42.6,42.0,41.5,41.0,40.6,40.2,39.8,39.4,39.0,38.6,38.2,37.8,37.4,36.9,36.4,35.9,35.4,34.9,34.4,33.9,33.4,32.9,32.4,31.8,31.2,30.6,30.0,29.4,28.8,28.2,27.6,27.1,26.7,26.3,25.9,25.5,25.1,24.6,24.0,23.4,22.8,22.2,21.6,21.0,20.4,19.8,19.2,18.6,18.0,17.4,17.0,16.5,16.0,15.6,15.2,14.8,14.4,14.0,13.5,13.0,12.4,12.0,11.6,11.2,10.8,10.3,9.8,9.2,8.6,8.0,7.4,6.8,6.2,5.6,5.0,4.4,3.6],
"y":[118,115,120,114,118,121,115,118,114,120,117,114,119,115,120,117,122,140,280,460,527,450,300,170,135,128,125,122,118,115,121,116,114,120,115,119,114,119,115,120,117,114,119,115,120,116,121,116,114,120,115,121,128,145,170,185,175,150,135,133,135,126,122,118,115,120,113,118,114,119,113,117,120,115,119,114,120,116,121,117,122,125,128,140,147,132,123,120,117,118,121,115,120,115,119,114,119,116,121,122,124,128,140,158,165,155,132,125,122,124,128,135,140,128,120,117,121,116,120,115,119,114,120,116,121,116,118]},
{"panel":"d","id":"d6","x":[75,74,73,72,71,70,69,68,67.2,66.5,65.8,65.2,64.6,64.2,63.8,63.4,63.0,62.6,62.2,61.6,61.0,60.5,60.0,59.4,58.8,58.2,57.6,57.0,56.4,55.8,55.2,54.6,54.0,53.4,52.8,52.2,51.6,51.0,50.4,49.8,49.2,48.6,48.0,47.4,46.8,46.2,45.6,45.0,44.4,43.8,43.2,42.6,42.0,41.4,40.8,40.2,39.6,39.0,38.4,37.8,37.2,36.6,36.0,35.4,34.8,34.2,33.6,33.0,32.4,31.8,31.2,30.6,30.0,29.4,28.8,28.2,27.6,27.0,26.4,25.8,25.2,24.6,24.0,23.4,22.8,22.2,21.6,21.0,20.4,19.8,19.2,18.6,18.0,17.4,16.8,16.2,15.6,15.0,14.4,13.8,13.2,12.6,12.0,11.4,10.8,10.2,9.6,9.0,8.4,7.8,7.2,6.6,6.0,5.4,4.8,4.2,3.6],
"y":[30,27,32,28,33,28,31,34,27,26,35,30,36,45,70,80,72,45,32,27,31,36,30,27,32,28,33,30,27,32,28,33,30,27,32,34,29,27,32,28,33,29,34,28,32,27,30,33,28,32,34,29,27,32,28,33,30,27,32,28,33,29,34,28,32,27,33,29,34,28,36,29,33,28,32,27,33,29,34,28,33,29,27,32,28,33,29,27,32,28,33,29,34,28,32,27,31,28,32,34,29,33,28,32,35,29,33,28,32,34,29,33,28,32,35,29,33]}
],
"labels":[
{"panel":"a","kind":"panel","text":"(a)","x":74.0,"y":534},
{"panel":"b","kind":"panel","text":"(b)","x":70.3,"y":536},
{"panel":"c","kind":"panel","text":"(c)","x":74.0,"y":523},
{"panel":"d","kind":"panel","text":"(d)","x":70.3,"y":523},
{"panel":"a","kind":"ppm","text":"35.5 ppm","x":56.9,"y":469},
{"panel":"a","kind":"ppm","text":"37.0 ppm","x":56.9,"y":370},
{"panel":"a","kind":"ppm","text":"40.0 ppm","x":33.1,"y":274},
{"panel":"a","kind":"ppm","text":"57.5 ppm","x":32.8,"y":193},
{"panel":"a","kind":"ppm","text":"59.0 ppm","x":56.9,"y":114},
{"panel":"a","kind":"ppm","text":"64.0 ppm","x":56.9,"y":28}
],
"arrows":[
{"set":"s1","x":26.9,"top":1110,"bottom":450},
{"set":"s1","x":17.4,"top":1110,"bottom":438},
{"set":"s2","x":37.3,"top":948,"bottom":245},
{"set":"s2","x":16.6,"top":948,"bottom":219},
{"set":"s3","x":15.1,"top":832,"bottom":168}
]
},
"columns":2,
"spacing":{"row":105,"column":30},
"bounds":"flush",
"concat":[
{"width":490,"height":595,"layer":[
 {"data":{"name":"traces"},"transform":[{"filter":"datum.panel === 'a'"},{"flatten":["x","y"]}],
  "mark":{"type":"line","color":"#000000","strokeWidth":1.8,"strokeJoin":"round","interpolate":"monotone"},
  "encoding":{"x":{"field":"x","type":"quantitative","scale":{"domain":[3.5,75.5],"reverse":true,"nice":false,"zero":false},
   "axis":{"values":[70,60,50,40,30,20,10],"labelExpr":"datum.value % 20 === 0 ? datum.label : ''","title":"¹³C NMR frequency (ppm)","titleX":222,"grid":false,"tickSize":8,"tickWidth":2,"tickColor":"#000000","domainColor":"#000000","domainWidth":2,"labelFontSize":28,"labelFont":"Liberation Sans","labelColor":"#000000","labelPadding":8,"labelFlush":false,"labelOverlap":false,"titleFont":"Liberation Sans","titleFontSize":29,"titleFontWeight":"normal","titleColor":"#000000","titlePadding":3}},
   "y":{"field":"y","type":"quantitative","scale":{"domain":[0,595],"nice":false,"zero":false},"axis":null},
   "detail":{"field":"id","type":"nominal"}}},
 {"data":{"name":"labels"},"transform":[{"filter":"datum.panel === 'a' && datum.kind === 'panel'"}],
  "mark":{"type":"text","fontSize":54,"align":"left","baseline":"alphabetic","color":"#231f20","font":"Liberation Sans"},
  "encoding":{"x":{"field":"x","type":"quantitative"},"y":{"field":"y","type":"quantitative"},"text":{"field":"text"}}},
 {"data":{"name":"labels"},"transform":[{"filter":"datum.panel === 'a' && datum.kind === 'ppm'"}],
  "mark":{"type":"text","fontSize":28,"align":"left","baseline":"alphabetic","color":"#2b2b2b","font":"Liberation Sans"},
  "encoding":{"x":{"field":"x","type":"quantitative"},"y":{"field":"y","type":"quantitative"},"text":{"field":"text"}}}
]},
{"width":490,"height":595,"layer":[
 {"data":{"name":"traces"},"transform":[{"filter":"datum.panel === 'b'"},{"flatten":["x","y"]}],
  "mark":{"type":"line","color":"#000000","strokeWidth":1.8,"strokeJoin":"round","interpolate":"monotone"},
  "encoding":{"x":{"field":"x","type":"quantitative","scale":{"domain":[3.5,75.5],"reverse":true,"nice":false,"zero":false},
   "axis":{"values":[70,60,50,40,30,20,10],"labelExpr":"datum.value % 20 === 0 ? datum.label : ''","title":"¹³C NMR frequency (ppm)","titleX":222,"grid":false,"tickSize":8,"tickWidth":2,"tickColor":"#000000","domainColor":"#000000","domainWidth":2,"labelFontSize":28,"labelFont":"Liberation Sans","labelColor":"#000000","labelPadding":8,"labelFlush":false,"labelOverlap":false,"titleFont":"Liberation Sans","titleFontSize":29,"titleFontWeight":"normal","titleColor":"#000000","titlePadding":3}},
   "y":{"field":"y","type":"quantitative","scale":{"domain":[0,595],"nice":false,"zero":false},"axis":null},
   "detail":{"field":"id","type":"nominal"}}},
 {"data":{"name":"labels"},"transform":[{"filter":"datum.panel === 'b' && datum.kind === 'panel'"}],
  "mark":{"type":"text","fontSize":54,"align":"left","baseline":"alphabetic","color":"#231f20","font":"Liberation Sans"},
  "encoding":{"x":{"field":"x","type":"quantitative"},"y":{"field":"y","type":"quantitative"},"text":{"field":"text"}}}
]},
{"width":490,"height":600,"layer":[
 {"data":{"name":"traces"},"transform":[{"filter":"datum.panel === 'c'"},{"flatten":["x","y"]}],
  "mark":{"type":"line","color":"#000000","strokeWidth":1.8,"strokeJoin":"round","interpolate":"monotone"},
  "encoding":{"x":{"field":"x","type":"quantitative","scale":{"domain":[3.5,75.5],"reverse":true,"nice":false,"zero":false},
   "axis":{"values":[70,60,50,40,30,20,10],"labelExpr":"datum.value % 20 === 0 ? datum.label : ''","title":"¹³C NMR frequency (ppm)","titleX":222,"grid":false,"tickSize":8,"tickWidth":2,"tickColor":"#000000","domainColor":"#000000","domainWidth":2,"labelFontSize":28,"labelFont":"Liberation Sans","labelColor":"#000000","labelPadding":8,"labelFlush":false,"labelOverlap":false,"titleFont":"Liberation Sans","titleFontSize":29,"titleFontWeight":"normal","titleColor":"#000000","titlePadding":3}},
   "y":{"field":"y","type":"quantitative","scale":{"domain":[0,600],"nice":false,"zero":false},"axis":null},
   "detail":{"field":"id","type":"nominal"}}},
 {"data":{"name":"labels"},"transform":[{"filter":"datum.panel === 'c' && datum.kind === 'panel'"}],
  "mark":{"type":"text","fontSize":54,"align":"left","baseline":"alphabetic","color":"#231f20","font":"Liberation Sans"},
  "encoding":{"x":{"field":"x","type":"quantitative"},"y":{"field":"y","type":"quantitative"},"text":{"field":"text"}}}
]},
{"width":490,"height":600,"layer":[
 {"data":{"name":"traces"},"transform":[{"filter":"datum.panel === 'd'"},{"flatten":["x","y"]}],
  "mark":{"type":"line","color":"#000000","strokeWidth":1.8,"strokeJoin":"round","interpolate":"monotone"},
  "encoding":{"x":{"field":"x","type":"quantitative","scale":{"domain":[3.5,75.5],"reverse":true,"nice":false,"zero":false},
   "axis":{"values":[70,60,50,40,30,20,10],"labelExpr":"datum.value % 20 === 0 ? datum.label : ''","title":"¹³C NMR frequency (ppm)","titleX":222,"grid":false,"tickSize":8,"tickWidth":2,"tickColor":"#000000","domainColor":"#000000","domainWidth":2,"labelFontSize":28,"labelFont":"Liberation Sans","labelColor":"#000000","labelPadding":8,"labelFlush":false,"labelOverlap":false,"titleFont":"Liberation Sans","titleFontSize":29,"titleFontWeight":"normal","titleColor":"#000000","titlePadding":3}},
   "y":{"field":"y","type":"quantitative","scale":{"domain":[0,600],"nice":false,"zero":false},"axis":null},
   "detail":{"field":"id","type":"nominal"}}},
 {"data":{"name":"labels"},"transform":[{"filter":"datum.panel === 'd' && datum.kind === 'panel'"}],
  "mark":{"type":"text","fontSize":54,"align":"left","baseline":"alphabetic","color":"#231f20","font":"Liberation Sans"},
  "encoding":{"x":{"field":"x","type":"quantitative"},"y":{"field":"y","type":"quantitative"},"text":{"field":"text"}}},
 {"data":{"name":"arrows"},
  "mark":{"type":"rule","strokeWidth":2},
  "encoding":{"x":{"field":"x","type":"quantitative"},"y":{"field":"top","type":"quantitative"},"y2":{"field":"bottom"},
   "color":{"field":"set","type":"nominal","scale":{"domain":["s1","s2","s3"],"range":["#e8312f","#2aa3df","#1f9e4a"]},"legend":null}}},
 {"data":{"name":"arrows"},
  "mark":{"type":"point","shape":"M-1,1.1L0,0L1,1.1","filled":false,"size":150,"strokeWidth":2,"opacity":1},
  "encoding":{"x":{"field":"x","type":"quantitative"},"y":{"field":"top","type":"quantitative"},
   "color":{"field":"set","type":"nominal","scale":{"domain":["s1","s2","s3"],"range":["#e8312f","#2aa3df","#1f9e4a"]},"legend":null}}},
 {"data":{"name":"arrows"},
  "mark":{"type":"point","shape":"M-1,-1.1L0,0L1,-1.1","filled":false,"size":150,"strokeWidth":2,"opacity":1},
  "encoding":{"x":{"field":"x","type":"quantitative"},"y":{"field":"bottom","type":"quantitative"},
   "color":{"field":"set","type":"nominal","scale":{"domain":["s1","s2","s3"],"range":["#e8312f","#2aa3df","#1f9e4a"]},"legend":null}}}
]}
]
}
